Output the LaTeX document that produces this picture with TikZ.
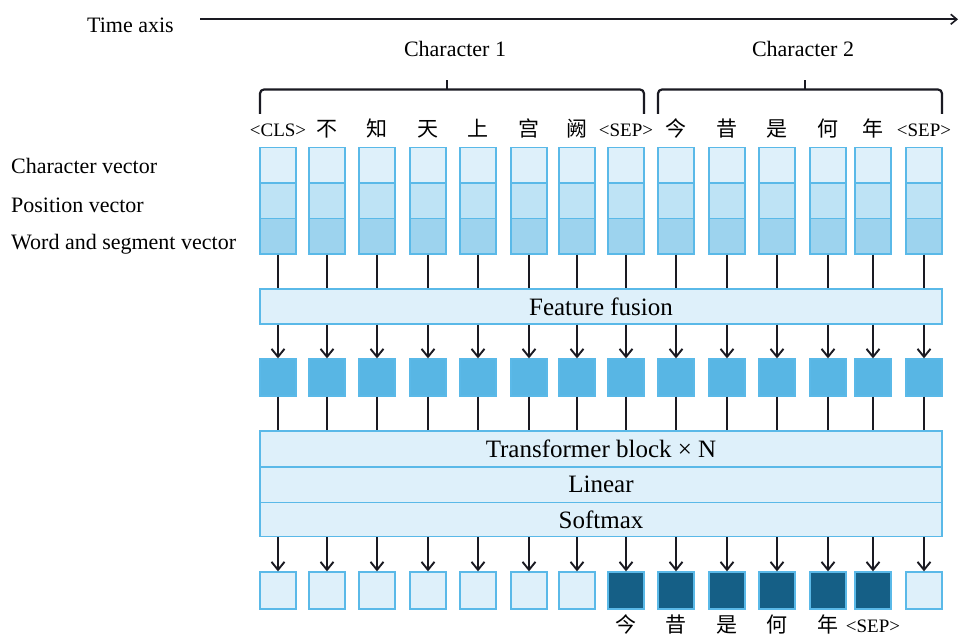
\documentclass[tikz,border=0pt]{standalone}
\usepackage{fontspec}
\setmainfont{Liberation Serif}
\newfontfamily\cjk{Noto Sans CJK SC}
\usetikzlibrary{arrows.meta,calc}

\definecolor{cellA}{HTML}{DEF0FA}
\definecolor{cellB}{HTML}{BEE3F5}
\definecolor{cellC}{HTML}{9DD3EE}
\definecolor{edgeblue}{HTML}{5AB9E8}
\definecolor{midblue}{HTML}{58B6E4}
\definecolor{deepblue}{HTML}{155F86}
\definecolor{ink}{HTML}{1A1A22}

\tikzset{
  cell/.style={draw=edgeblue, line width=1.3pt, inner sep=0pt,
    minimum width=36pt, minimum height=35.5pt},
  sq/.style={draw=edgeblue, line width=1.3pt, inner sep=0pt,
    minimum width=36pt, minimum height=37pt},
  band/.style={draw=edgeblue, fill=cellA, line width=1.3pt, inner sep=0pt,
    minimum width=682pt, font=\fontsize{25}{28}\selectfont},
  link/.style={draw=ink, line width=1.9pt},
  arr/.style={draw=ink, line width=1.9pt, -{Straight Barb[length=8pt,width=13pt,line width=1.9pt]}},
  tarr/.style={draw=ink, line width=1.6pt, -{Straight Barb[length=6pt,width=10pt,line width=1.6pt]}},
  brack/.style={draw=ink, line width=2.2pt, rounded corners=4pt},
  lbl/.style={inner sep=0pt, font=\fontsize{22}{26}\selectfont},
  tok/.style={inner sep=0pt, anchor=base, font=\fontsize{19}{22}\selectfont},
  han/.style={inner sep=0pt, anchor=base, font=\cjk\fontsize{21}{24}\selectfont},
}

\begin{document}
\begin{tikzpicture}[x=1pt,y=-1pt]
\useasboundingbox (0,0) rectangle (959,636);
\fill[white] (0,0) rectangle (959,636);

% time axis
\node[lbl, anchor=base west] (taxis) at (87,32.3) {Time axis};
\coordinate (tstart) at (200,19.3);
\coordinate (tend) at (958,19.3);
\draw[tarr] (tstart) -- (tend);

% sentence brackets
\node[lbl, anchor=base] (char1) at (455,57) {Character 1};
\node[lbl, anchor=base] (char2) at (803,57) {Character 2};
\draw[brack] (260,114) -- (260,89.5) -- (644,89.5) -- (644,114);
\draw[brack] (447,89.5) -- (447,80);
\draw[brack] (658,114) -- (658,89.5) -- (942,89.5) -- (942,114);
\draw[brack] (805,89.5) -- (805,80);

% row labels
\node[lbl, anchor=base west] (lchar) at (11,173.3) {Character vector};
\node[lbl, anchor=base west] (lpos)  at (11,212.3) {Position vector};
\node[lbl, anchor=base west] (lword) at (11,249.3) {Word and segment vector};

% shared blocks
\node[band, minimum height=35pt] (ff) at (601,306.5) {Feature fusion};
\node[band, minimum height=36pt] (tb) at (601,449) {Transformer block × N};
\node[band, minimum height=35.5pt] (lin) at (601,484.75) {Linear};
\node[band, minimum height=34pt] (sm) at (601,519.5) {Softmax};

% token columns: index / x / input label / label style / output fill
\foreach \i/\x/\t/\s/\o in {
  1/278/{<CLS>}/tok/cellA,
  2/327/不/han/cellA,
  3/377/知/han/cellA,
  4/428/天/han/cellA,
  5/478/上/han/cellA,
  6/529/宫/han/cellA,
  7/577/阙/han/cellA,
  8/626/{<SEP>}/tok/deepblue,
  9/676/今/han/deepblue,
  10/727/昔/han/deepblue,
  11/777/是/han/deepblue,
  12/828/何/han/deepblue,
  13/873/年/han/deepblue,
  14/924/{<SEP>}/tok/cellA}{
  \node[\s] (in\i) at (\x,137) {\t};
  \node[cell, fill=cellA] (va\i) at (\x,165.25) {};
  \node[cell, fill=cellB] (vb\i) at (\x,200.75) {};
  \node[cell, fill=cellC] (vc\i) at (\x,236.25) {};
  \node[sq, fill=midblue] (mid\i) at (\x,377.5) {};
  \node[sq, fill=\o] (out\i) at (\x,590.5) {};
  \draw[link] (vc\i.south) -- (vc\i.south |- ff.north);
  \draw[arr] (ff.south -| mid\i) -- (mid\i.north);
  \draw[link] (mid\i.south) -- (mid\i.south |- tb.north);
  \draw[arr] (sm.south -| out\i) -- (out\i.north);
}

% predicted second line
\node[han] (p1) at (626,632) {今};
\node[han] (p2) at (676,632) {昔};
\node[han] (p3) at (727,632) {是};
\node[han] (p4) at (777,632) {何};
\node[han] (p5) at (828,632) {年};
\node[tok] (p6) at (873,632) {<SEP>};
\end{tikzpicture}
\end{document}
